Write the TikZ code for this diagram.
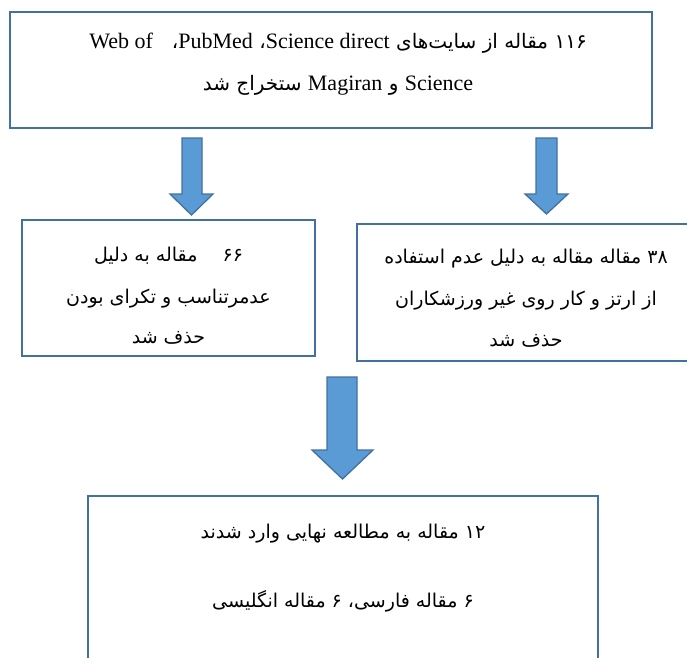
\documentclass[tikz,border=0pt]{standalone}
\usepackage{fontspec}
\setmainfont{Liberation Serif}
\newfontfamily\fa[Script=Arabic]{DejaVu Sans}
\newfontfamily\lat{Liberation Serif}
\newcommand\latw[1]{\beginL{\lat\fontsize{22}{26}\selectfont #1}\endL}
\TeXXeTstate=1
\definecolor{bord}{RGB}{65,113,156}
\definecolor{fillb}{RGB}{91,155,213}
\begin{document}
\begin{tikzpicture}[x=1pt,y=1pt,
  box/.style={draw=bord, line width=2pt, inner sep=0pt, fill=none},
  barrow/.style={draw=bord, fill=fillb, line width=1.3pt, line join=miter},
  fatext/.style={font=\fa\fontsize{19}{23}\selectfont, inner sep=0pt, anchor=base},
  fatop/.style={font=\fa\fontsize{20}{24}\selectfont, inner sep=0pt, anchor=base}]
\useasboundingbox (0,0) rectangle (687,-657);
\clip (0,0) rectangle (687,-657);
% boxes
\node[box, minimum width=642pt, minimum height=116pt] (top) at (331,-70) {};
\node[box, minimum width=293pt, minimum height=136pt] (left) at (168.5,-288) {};
\node[box, minimum width=343pt, minimum height=137pt] (right) at (528.5,-292.5) {};
\node[box, minimum width=510pt, minimum height=204pt] (bottom) at (343,-598) {};
% block arrows
\draw[barrow] (182,-138) -- (202,-138) -- (202,-194) -- (213,-194) -- (191.5,-215) -- (170,-194) -- (182,-194) -- cycle;
\draw[barrow] (536,-138) -- (557,-138) -- (557,-194) -- (568,-194) -- (546.5,-214) -- (525,-194) -- (536,-194) -- cycle;
\draw[barrow] (327,-377) -- (357,-377) -- (357,-450) -- (373,-450) -- (342.5,-479) -- (312,-450) -- (327,-450) -- cycle;
% top box text
\node[fatop] (t1) at (338,-48) {\beginR ۱۱۶ مقاله از سایت‌های \latw{Science direct}، \latw{PubMed}، \ \ \latw{Web of}\endR};
\node[fatop] (t2) at (338,-90) {\beginR\latw{Science}{} و \latw{Magiran}{} ستخراج شد\endR};
% left box text
\node[fatext] (l1) at (168.5,-261) {\beginR ۶۶\quad\ مقاله به دلیل\endR};
\node[fatext] (l2) at (168.5,-303) {\beginR عدمرتناسب و تکرای بودن\endR};
\node[fatext] (l3) at (168.5,-343) {\beginR حذف شد\endR};
% right box text
\node[fatext] (r1) at (526,-263) {\beginR ۳۸ مقاله مقاله به دلیل عدم استفاده\endR};
\node[fatext] (r2) at (526,-305) {\beginR از ارتز و کار روی غیر ورزشکاران\endR};
\node[fatext] (r3) at (526,-346) {\beginR حذف شد\endR};
% bottom box text
\node[fatext] (b1) at (343,-538) {\beginR ۱۲ مقاله به مطالعه نهایی وارد شدند\endR};
\node[fatext] (b2) at (343,-607) {\beginR ۶ مقاله فارسی، ۶ مقاله انگلیسی\endR};
\end{tikzpicture}
\end{document}
